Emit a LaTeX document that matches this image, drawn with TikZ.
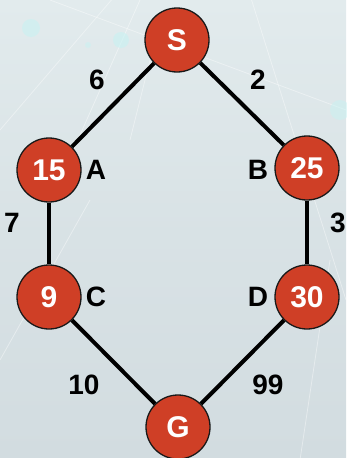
\documentclass[tikz,border=0pt]{standalone}
\usepackage{fontspec}
\setmainfont{Liberation Sans}
\definecolor{bgA}{HTML}{E2EBED}
\definecolor{bgB}{HTML}{D2DCE0}
\definecolor{nodered}{HTML}{CF3F26}
\definecolor{glow}{HTML}{C8F2F2}
\begin{document}
\begin{tikzpicture}[x=1pt,y=-1pt,
  vert/.style={circle,draw=black!90,line width=1.3pt,fill=nodered,minimum size=64pt,inner sep=0pt,text=white,font=\bfseries\fontsize{30}{30}\selectfont},
  lbl/.style={font=\bfseries\fontsize{28}{28}\selectfont,text=black,inner sep=0pt},
  edge/.style={line width=4pt,black}]
\useasboundingbox (0,0) rectangle (346,458);
\shade[top color=bgA,bottom color=bgB,middle color=bgB!60!bgA] (0,0) rectangle (346,458);
% faint streaks
\begin{scope}[white,opacity=0.4,line width=0.8pt]
\draw (0,130) -- (120,-10);
\draw (60,180) -- (140,0);
\draw (130,140) -- (150,60);
\draw (250,-5) -- (346,300);
\draw (50,0) -- (346,110);
\draw (0,360) -- (90,200);
\draw (300,460) -- (330,260);
\end{scope}
\fill[glow,opacity=0.6] (31,28) circle (9);
\fill[glow,opacity=0.6] (121,40) circle (8);
\fill[glow,opacity=0.5] (88,45) circle (3);
\fill[glow,opacity=0.5] (340,110) circle (10);
% nodes
\node[vert] (S) at (177,40) {S};
\node[vert] (A) at (49,170) {15};
\node[vert] (B) at (307,168) {25};
\node[vert] (C) at (49,297) {9};
\node[vert] (D) at (307,297) {30};
\node[vert] (G) at (178,427) {G};
% edges
\draw[edge] (S) -- (A);
\draw[edge] (S) -- (B);
\draw[edge] (A) -- (C);
\draw[edge] (B) -- (D);
\draw[edge] (C) -- (G);
\draw[edge] (D) -- (G);
% labels
\node[lbl] (l6) at (97,80) {6};
\node[lbl] (l2) at (258,80) {2};
\node[lbl] (lA) at (96,170) {A};
\node[lbl] (lB) at (258,170) {B};
\node[lbl] (l7) at (12,223) {7};
\node[lbl] (l3) at (338,223) {3};
\node[lbl] (lC) at (96,297) {C};
\node[lbl] (lD) at (258,297) {D};
\node[lbl] (l10) at (84,385) {10};
\node[lbl] (l99) at (268,385) {99};
\end{tikzpicture}
\end{document}
